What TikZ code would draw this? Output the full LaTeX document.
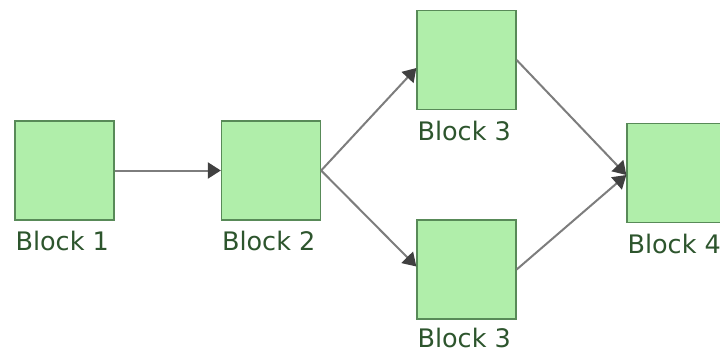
\documentclass[tikz,border=0pt]{standalone}
\usepackage{fontspec}
\setmainfont{DejaVu Sans}
\usetikzlibrary{arrows.meta}
\definecolor{boxfill}{RGB}{176,238,170}
\definecolor{boxdraw}{RGB}{88,138,88}
\definecolor{textcol}{RGB}{45,85,45}
\definecolor{edgecol}{RGB}{125,125,125}
\definecolor{tipcol}{RGB}{64,64,64}
\tikzset{
  block/.style={draw=boxdraw, fill=boxfill, line width=1.3pt, minimum width=99pt, minimum height=99pt, inner sep=0pt},
  blabel/.style={anchor=base west, text=textcol, inner sep=0pt, font=\fontsize{25.5}{30}\selectfont},
  conn/.style={draw=edgecol, line width=2pt, -{Triangle[length=13pt,width=16pt,color=tipcol]}}
}
\begin{document}
\begin{tikzpicture}[x=1pt,y=1pt]
\useasboundingbox (0,0) rectangle (720,354);
\clip (0,0) rectangle (720,354);
\node[block] (b1) at (64.5,183.5) {};
\node[block] (b2) at (271,183.5) {};
\node[block] (b3a) at (466.5,294) {};
\node[block] (b3b) at (466.5,84.5) {};
\node[block] (b4) at (676.5,181) {};
\node[blabel] (l1) at ([xshift=1pt,yshift=-30pt]b1.south west) {Block 1};
\node[blabel] (l2) at ([xshift=1pt,yshift=-30pt]b2.south west) {Block 2};
\node[blabel] (l3a) at ([xshift=1pt,yshift=-30pt]b3a.south west) {Block 3};
\node[blabel] (l3b) at ([xshift=1pt,yshift=-28pt]b3b.south west) {Block 3};
\node[blabel] (l4) at ([xshift=1pt,yshift=-30pt]b4.south west) {Block 4};
\draw[conn] (b1.east) -- (b2.west);
\draw[conn] (b2.east) -- ([yshift=-8pt]b3a.west);
\draw[conn] (b2.east) -- ([yshift=3pt]b3b.west);
\draw[conn] (b3a.east) -- ([yshift=-2pt]b4.west);
\draw[conn] (b3b.east) -- ([yshift=-2pt]b4.west);
\end{tikzpicture}
\end{document}
